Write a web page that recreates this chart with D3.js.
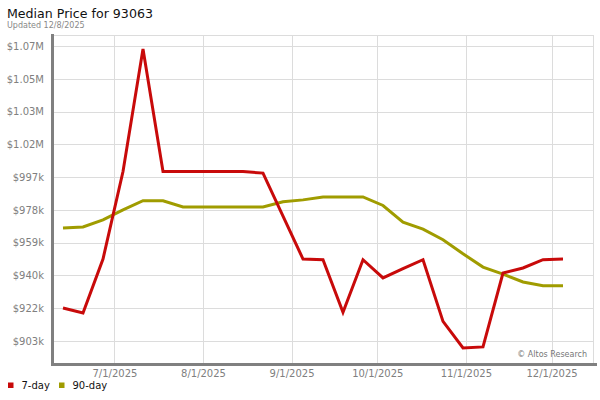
<!DOCTYPE html>
<html>
<head>
<meta charset="utf-8">
<script src="https://cdn.jsdelivr.net/npm/d3@7/dist/d3.min.js"></script>
<style>
  html, body { margin: 0; padding: 0; background: #fff; }
  svg { display: block; font-family: "DejaVu Sans", Verdana, sans-serif; }
</style>
</head>
<body>
<svg id="chart" width="600" height="400"></svg>
<script>
// ---- Data ----
const dates = [
  "2025-06-13","2025-06-20","2025-06-27","2025-07-04","2025-07-11","2025-07-18",
  "2025-07-25","2025-08-01","2025-08-08","2025-08-15","2025-08-22","2025-08-29",
  "2025-09-05","2025-09-12","2025-09-19","2025-09-26","2025-10-03","2025-10-10",
  "2025-10-17","2025-10-24","2025-10-31","2025-11-07","2025-11-14","2025-11-21",
  "2025-11-28","2025-12-05"
];
const sevenDay = [
  921800, 919000, 949800, 999800, 1069800, 999800,
  999800, 999800, 999800, 999800, 998900, 974300,
  949800, 949400, 919400, 949400, 939000, 944300,
  949400, 914200, 899000, 899600, 941800, 944700,
  949400, 949800
];
const ninetyDay = [
  967500, 968100, 972200, 977900, 983100, 983100,
  979500, 979500, 979500, 979500, 979500, 982500,
  983600, 985300, 985300, 985300, 980400, 970900,
  966900, 960800, 952800, 945200, 941200, 936700,
  934600, 934600
];
const yTickValues = [903000, 921720, 940440, 959160, 977880, 996600, 1015320, 1034040, 1052760, 1071480];
const yTickLabels = ["$903k","$922k","$940k","$959k","$978k","$997k","$1.02M","$1.03M","$1.05M","$1.07M"];
const xTickDates = ["2025-07-01","2025-08-01","2025-09-01","2025-10-01","2025-11-01","2025-12-01"];
const xTickLabels = ["7/1/2025","8/1/2025","9/1/2025","10/1/2025","11/1/2025","12/1/2025"];
const xDomain = ["2025-06-09T12:00","2025-12-15T12:00"];
const yDomain = [890400, 1077800];
const seriesNames = ["7-day", "90-day"];
const seriesColors = ["#c80a0a", "#a09c00"];

// ---- Layout ----
const L = 53, R = 593, T = 35, B = 363;
const parse = s => new Date(s);

const svg = d3.select("#chart");

const x = d3.scaleTime().domain(xDomain.map(parse)).range([L, R]);
const y = d3.scaleLinear().domain(yDomain).range([B, T]);

// Title
svg.append("text").attr("x", 7).attr("y", 18)
  .attr("font-size", 12.6).attr("fill", "#111").text("Median Price for 93063");
svg.append("text").attr("x", 7).attr("y", 27.5)
  .attr("font-size", 8).attr("fill", "#888").text("Updated 12/8/2025");

// Plot border (top, right)
svg.append("line").attr("x1", L).attr("x2", R).attr("y1", T + 0.5).attr("y2", T + 0.5)
  .attr("stroke", "#dcdcdc");
svg.append("line").attr("x1", R + 0.5).attr("x2", R + 0.5).attr("y1", T).attr("y2", B)
  .attr("stroke", "#dcdcdc");

// Horizontal gridlines + y labels
const yAxis = d3.axisLeft(y)
  .tickValues(yTickValues)
  .tickFormat((d, i) => yTickLabels[i])
  .tickSize(-(R - L))
  .tickPadding(9);
const gy = svg.append("g").attr("transform", `translate(${L},0)`).call(yAxis);
gy.select(".domain").remove();
gy.selectAll(".tick line").attr("stroke", "#dcdcdc").attr("shape-rendering", "crispEdges");
gy.selectAll(".tick text").attr("fill", "#808080").attr("font-size", 10)
  .attr("font-family", "DejaVu Sans, Verdana, sans-serif");

// Vertical gridlines + x labels
const xAxis = d3.axisBottom(x)
  .tickValues(xTickDates.map(parse))
  .tickFormat((d, i) => xTickLabels[i])
  .tickSize(-(B - T))
  .tickPadding(7);
const gx = svg.append("g").attr("transform", `translate(0,${B})`).call(xAxis);
gx.select(".domain").remove();
gx.selectAll(".tick line").attr("stroke", "#dcdcdc").attr("shape-rendering", "crispEdges");
gx.selectAll(".tick text").attr("fill", "#808080").attr("font-size", 10)
  .attr("font-family", "DejaVu Sans, Verdana, sans-serif");

// Watermark
svg.append("text").attr("x", R - 6).attr("y", B - 6).attr("text-anchor", "end")
  .attr("font-size", 8).attr("fill", "#777").text("\u00A9 Altos Research");

// Lines
const line = d3.line().x((d, i) => x(parse(dates[i]))).y(d => y(d));
[ninetyDay, sevenDay].forEach((vals, k) => {
  const idx = k === 0 ? 1 : 0;
  svg.append("path").datum(vals)
    .attr("fill", "none")
    .attr("stroke", seriesColors[idx])
    .attr("stroke-width", 3)
    .attr("stroke-linejoin", "miter")
    .attr("d", line);
});

// Axis bars (thick gray)
svg.append("rect").attr("x", 51).attr("y", T - 1).attr("width", 3).attr("height", B - T + 4)
  .attr("fill", "#808080");
svg.append("rect").attr("x", 51).attr("y", B).attr("width", 546).attr("height", 3)
  .attr("fill", "#808080");

// Legend
const lg = svg.append("g").attr("transform", "translate(8,389)");
const lx = [0, 51];
seriesNames.forEach((n, i) => {
  lg.append("rect").attr("x", lx[i]).attr("y", -6.5).attr("width", 5.5).attr("height", 5.5)
    .attr("fill", seriesColors[i]);
  lg.append("text").attr("x", lx[i] + 13.5).attr("y", 0)
    .attr("font-size", 10).attr("fill", "#111").text(n);
});
</script>
</body>
</html>
